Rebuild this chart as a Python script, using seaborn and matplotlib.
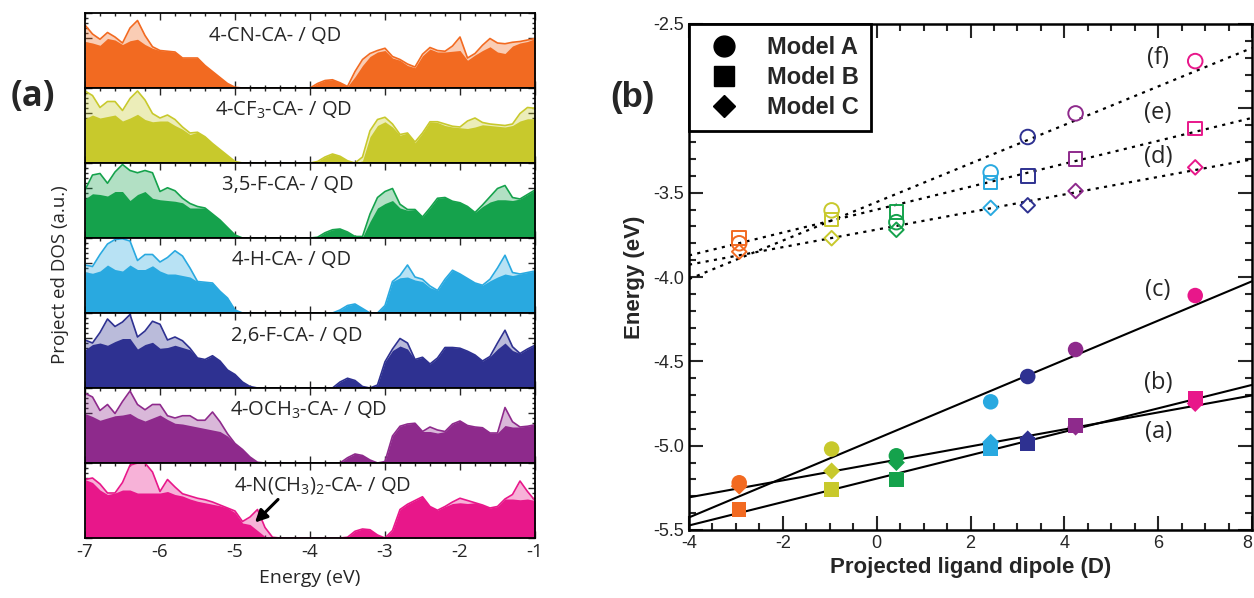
import numpy as np
import pandas as pd
import seaborn as sns
import matplotlib.pyplot as plt
from matplotlib.lines import Line2D
from matplotlib.ticker import MultipleLocator

# ---------------- panel (a): projected DOS, sampled every 0.1 eV ----------------
energy = np.round(np.linspace(-7.0, -1.0, 61), 1)

ligand_labels = [
    '4-CN-CA- / QD',
    '4-CF$_\\mathrm{3}$-CA- / QD',
    '3,5-F-CA- / QD',
    '4-H-CA- / QD',
    '2,6-F-CA- / QD',
    '4-OCH$_\\mathrm{3}$-CA- / QD',
    '4-N(CH$_\\mathrm{3}$)$_\\mathrm{2}$-CA- / QD',
]
ligand_short = ['CN', 'CF3', '35F', 'H', '26F', 'OCH3', 'NMe2']
colors = ['#F26A21', '#C8C92C', '#15A24C', '#29A9E0', '#2E3191', '#8E2A8C', '#E8178A']

# total DOS (light fill with outline)
dos_cn = [0.84, 0.72, 0.65, 0.74, 0.68, 0.60, 0.80, 0.90, 0.70, 0.55,
          0.50, 0.49, 0.48, 0.40, 0.40, 0.40, 0.30, 0.22, 0.14, 0.06,
          0.01, 0, 0, 0, 0, 0, 0, 0, 0, 0,
          0, 0.06, 0.10, 0.11, 0.07, 0.02, 0.22, 0.38, 0.46, 0.50,
          0.53, 0.42, 0.38, 0.32, 0.28, 0.45, 0.54, 0.50, 0.49, 0.56,
          0.68, 0.40, 0.46, 0.57, 0.66, 0.60, 0.59, 0.61, 0.62, 0.64, 0.66]
dos_cf3 = [0.96, 0.90, 0.74, 0.82, 0.82, 0.70, 0.86, 0.96, 0.84, 0.66,
           0.60, 0.64, 0.58, 0.48, 0.40, 0.41, 0.35, 0.26, 0.18, 0.10,
           0.02, 0, 0, 0, 0, 0, 0, 0, 0, 0,
           0, 0.02, 0.08, 0.12, 0.09, 0.03, 0, 0.08, 0.43, 0.58,
           0.61, 0.52, 0.38, 0.40, 0.28, 0.40, 0.55, 0.55, 0.52, 0.49,
           0.48, 0.56, 0.60, 0.54, 0.52, 0.51, 0.50, 0.52, 0.66, 0.74, 0.73]
dos_35f = [0.64, 0.84, 0.86, 0.73, 0.88, 0.98, 0.90, 0.87, 0.90, 0.87,
           0.62, 0.67, 0.63, 0.53, 0.46, 0.42, 0.40, 0.32, 0.24, 0.14,
           0.04, 0, 0, 0, 0, 0, 0, 0, 0, 0,
           0, 0.01, 0.07, 0.11, 0.12, 0.08, 0.02, 0.02, 0.32, 0.54,
           0.62, 0.66, 0.45, 0.38, 0.38, 0.28, 0.40, 0.53, 0.54, 0.49,
           0.47, 0.42, 0.34, 0.44, 0.55, 0.66, 0.70, 0.54, 0.52, 0.58, 0.64]
dos_h = [0.64, 0.62, 0.78, 0.92, 0.98, 0.99, 0.96, 0.70, 0.78, 0.78,
         0.68, 0.74, 0.83, 0.76, 0.60, 0.42, 0.41, 0.40, 0.29, 0.20,
         0.04, 0, 0, 0, 0, 0, 0, 0, 0, 0,
         0, 0, 0, 0, 0.04, 0.10, 0.12, 0.06, 0, 0,
         0.10, 0.42, 0.50, 0.64, 0.48, 0.45, 0.36, 0.30, 0.45, 0.57,
         0.52, 0.46, 0.40, 0.37, 0.45, 0.60, 0.77, 0.54, 0.52, 0.54, 0.56]
dos_26f = [0.64, 0.60, 0.74, 0.92, 0.82, 0.88, 0.98, 0.68, 0.76, 0.89,
           0.85, 0.64, 0.68, 0.63, 0.53, 0.40, 0.38, 0.43, 0.36, 0.24,
           0.18, 0.08, 0.02, 0, 0, 0, 0, 0, 0, 0,
           0, 0, 0, 0, 0.08, 0.13, 0.10, 0.02, 0, 0.04,
           0.35, 0.52, 0.66, 0.60, 0.38, 0.41, 0.32, 0.40, 0.54, 0.54,
           0.53, 0.49, 0.44, 0.36, 0.42, 0.60, 0.77, 0.55, 0.46, 0.52, 0.57]
dos_och3 = [0.93, 0.88, 0.70, 0.78, 0.66, 0.82, 0.96, 0.78, 0.71, 0.78,
            0.78, 0.63, 0.60, 0.63, 0.63, 0.57, 0.57, 0.68, 0.55, 0.39,
            0.26, 0.18, 0.08, 0.01, 0, 0, 0, 0, 0, 0,
            0, 0, 0, 0, 0, 0.07, 0.12, 0.10, 0.04, 0,
            0.02, 0.36, 0.49, 0.52, 0.53, 0.42, 0.48, 0.44, 0.42, 0.52,
            0.56, 0.50, 0.48, 0.47, 0.40, 0.40, 0.74, 0.55, 0.48, 0.49, 0.51]
dos_nme2 = [0.78, 0.80, 0.72, 0.60, 0.60, 0.74, 0.97, 1.00, 1.00, 0.88,
            0.62, 0.78, 0.68, 0.59, 0.56, 0.53, 0.51, 0.48, 0.44, 0.40,
            0.36, 0.22, 0.28, 0.38, 0.14, 0.01, 0, 0, 0, 0,
            0, 0, 0, 0, 0, 0.01, 0.09, 0.12, 0.11, 0.04,
            0, 0.10, 0.38, 0.45, 0.50, 0.55, 0.42, 0.37, 0.42, 0.48,
            0.53, 0.50, 0.47, 0.44, 0.40, 0.42, 0.52, 0.58, 0.76, 0.62, 0.50]

# QD-projected DOS (dark fill)
pdos_cn = [0.62, 0.60, 0.57, 0.66, 0.64, 0.58, 0.63, 0.65, 0.58, 0.53,
           0.50, 0.49, 0.48, 0.40, 0.40, 0.40, 0.30, 0.22, 0.14, 0.06,
           0.01, 0, 0, 0, 0, 0, 0, 0, 0, 0,
           0, 0.06, 0.10, 0.11, 0.07, 0.02, 0.15, 0.30, 0.42, 0.48,
           0.50, 0.40, 0.37, 0.30, 0.27, 0.43, 0.52, 0.48, 0.48, 0.49,
           0.50, 0.37, 0.44, 0.50, 0.55, 0.48, 0.46, 0.56, 0.60, 0.62, 0.66]
pdos_cf3 = [0.59, 0.64, 0.60, 0.62, 0.64, 0.56, 0.60, 0.65, 0.58, 0.55,
            0.56, 0.56, 0.50, 0.45, 0.38, 0.41, 0.35, 0.26, 0.18, 0.10,
            0.02, 0, 0, 0, 0, 0, 0, 0, 0, 0,
            0, 0.02, 0.08, 0.12, 0.09, 0.03, 0, 0.03, 0.35, 0.50,
            0.55, 0.48, 0.37, 0.40, 0.27, 0.40, 0.55, 0.54, 0.50, 0.48,
            0.47, 0.46, 0.48, 0.51, 0.50, 0.49, 0.48, 0.50, 0.56, 0.59, 0.59]
pdos_35f = [0.52, 0.59, 0.58, 0.56, 0.62, 0.62, 0.50, 0.58, 0.62, 0.53,
            0.51, 0.50, 0.49, 0.47, 0.40, 0.40, 0.40, 0.32, 0.24, 0.14,
            0.04, 0, 0, 0, 0, 0, 0, 0, 0, 0,
            0, 0.01, 0.07, 0.11, 0.12, 0.08, 0.02, 0.01, 0.22, 0.40,
            0.46, 0.50, 0.40, 0.37, 0.38, 0.28, 0.40, 0.53, 0.54, 0.49,
            0.47, 0.42, 0.34, 0.42, 0.48, 0.51, 0.51, 0.50, 0.52, 0.58, 0.64]
pdos_h = [0.55, 0.53, 0.56, 0.64, 0.58, 0.56, 0.64, 0.58, 0.58, 0.63,
          0.56, 0.52, 0.52, 0.50, 0.48, 0.42, 0.41, 0.40, 0.29, 0.20,
          0.04, 0, 0, 0, 0, 0, 0, 0, 0, 0,
          0, 0, 0, 0, 0.04, 0.10, 0.12, 0.06, 0, 0,
          0.10, 0.42, 0.47, 0.48, 0.44, 0.42, 0.34, 0.30, 0.45, 0.57,
          0.52, 0.46, 0.40, 0.37, 0.43, 0.48, 0.52, 0.50, 0.52, 0.54, 0.56]
pdos_26f = [0.51, 0.58, 0.60, 0.57, 0.62, 0.66, 0.66, 0.52, 0.58, 0.61,
            0.53, 0.54, 0.57, 0.54, 0.51, 0.40, 0.38, 0.43, 0.36, 0.24,
            0.18, 0.08, 0.02, 0, 0, 0, 0, 0, 0, 0,
            0, 0, 0, 0, 0.08, 0.13, 0.10, 0.02, 0, 0.04,
            0.35, 0.50, 0.56, 0.52, 0.38, 0.41, 0.32, 0.40, 0.54, 0.54,
            0.53, 0.49, 0.44, 0.36, 0.42, 0.52, 0.60, 0.50, 0.46, 0.52, 0.57]
pdos_och3 = [0.66, 0.62, 0.57, 0.60, 0.63, 0.64, 0.66, 0.60, 0.56, 0.60,
             0.64, 0.58, 0.53, 0.52, 0.50, 0.48, 0.46, 0.44, 0.42, 0.36,
             0.26, 0.18, 0.08, 0.01, 0, 0, 0, 0, 0, 0,
             0, 0, 0, 0, 0, 0.07, 0.12, 0.10, 0.04, 0,
             0.02, 0.36, 0.49, 0.52, 0.53, 0.42, 0.42, 0.40, 0.42, 0.52,
             0.56, 0.50, 0.48, 0.47, 0.40, 0.40, 0.50, 0.48, 0.48, 0.49, 0.51]
pdos_nme2 = [0.78, 0.74, 0.64, 0.58, 0.60, 0.64, 0.64, 0.60, 0.60, 0.60,
             0.60, 0.62, 0.58, 0.56, 0.52, 0.49, 0.47, 0.45, 0.43, 0.40,
             0.34, 0.20, 0.18, 0.10, 0.02, 0, 0, 0, 0, 0,
             0, 0, 0, 0, 0, 0.01, 0.09, 0.12, 0.11, 0.04,
             0, 0.10, 0.38, 0.45, 0.50, 0.55, 0.42, 0.37, 0.42, 0.46,
             0.47, 0.46, 0.47, 0.44, 0.40, 0.42, 0.52, 0.52, 0.51, 0.52, 0.50]

dos_total = [dos_cn, dos_cf3, dos_35f, dos_h, dos_26f, dos_och3, dos_nme2]
dos_proj = [pdos_cn, pdos_cf3, pdos_35f, pdos_h, pdos_26f, pdos_och3, pdos_nme2]

# ---------------- panel (b): level energies vs projected ligand dipole ----------------
dipole = [-2.93, -0.96, 0.42, 2.43, 3.22, 4.24, 6.79]
occ_A = [-5.22, -5.02, -5.06, -4.74, -4.59, -4.43, -4.11]
occ_B = [-5.38, -5.26, -5.20, -5.02, -4.99, -4.88, -4.72]
occ_C = [-5.24, -5.15, -5.10, -4.98, -4.96, -4.89, -4.75]
unocc_A = [-3.80, -3.605, -3.675, -3.38, -3.17, -3.03, -2.72]
unocc_B = [-3.77, -3.66, -3.615, -3.44, -3.40, -3.30, -3.12]
unocc_C = [-3.85, -3.77, -3.72, -3.59, -3.575, -3.49, -3.35]

fit_labels = ['(a)', '(b)', '(c)', '(d)', '(e)', '(f)']
fit_label_y = [-4.92, -4.63, -4.08, -3.29, -3.03, -2.70]

# ---------------- style ----------------
sns.set_style('ticks')
plt.rcParams['font.family'] = ['Open Sans', 'DejaVu Sans']
plt.rcParams['axes.unicode_minus'] = False
plt.rcParams['mathtext.fontset'] = 'custom'
plt.rcParams['mathtext.rm'] = 'Open Sans'
plt.rcParams['axes.edgecolor'] = 'black'

W, H = 1254, 598
fig = plt.figure(figsize=(W / 100, H / 100), dpi=100)


def px_axes(x0, y0, x1, y1):
    return fig.add_axes([x0 / W, 1 - y1 / H, (x1 - x0) / W, (y1 - y0) / H])


label_x = [-4.46, -4.35, -4.29, -4.24, -4.18, -4.02, -3.83]

for i in range(7):
    ax = px_axes(85, 13 + 75 * i, 535, 13 + 75 * (i + 1))
    col = colors[i]
    ax.fill_between(energy, dos_total[i], color=col, alpha=0.33, lw=0)
    ax.fill_between(energy, dos_proj[i], color=col, lw=0)
    sns.lineplot(x=energy, y=dos_total[i], color=col, lw=1.2, ax=ax)
    ax.set_xlim(-7, -1)
    ax.set_ylim(0, 1)
    ax.set_xlabel('')
    ax.set_ylabel('')
    ax.xaxis.set_major_locator(MultipleLocator(1))
    ax.xaxis.set_minor_locator(MultipleLocator(0.2))
    ax.yaxis.set_major_locator(MultipleLocator(1 / 3))
    ax.yaxis.set_minor_locator(MultipleLocator(1 / 15))
    ax.tick_params(which='both', direction='in', top=True, right=True,
                   labelleft=False, labelbottom=(i == 6), labelsize=13.5, width=1)
    ax.tick_params(which='major', length=5)
    ax.tick_params(which='minor', length=2.5)
    for sp in ax.spines.values():
        sp.set_linewidth(1.3)
    ax.text(label_x[i], 0.70, ligand_labels[i], ha='center', va='center', fontsize=14.5)
    if i == 6:
        ax.set_xlabel('Energy (eV)', fontsize=14, labelpad=6)
        ax.annotate('', xy=(-4.76, 0.18), xytext=(-4.40, 0.54),
                    arrowprops=dict(arrowstyle='-|>', color='black', lw=2.2, mutation_scale=18))

fig.text(60 / W, 1 - 275 / H, 'Project ed DOS (a.u.)', rotation=90, ha='center', va='center',
         fontsize=13.5)
fig.text(33 / W, 1 - 97 / H, '(a)', ha='center', va='center', fontsize=25, fontweight='bold')

# ---------------- panel (b) ----------------
axb = px_axes(689, 24, 1252, 530)
axb.set_xlim(-4, 8)
axb.set_ylim(-5.5, -2.5)

for yv in [occ_A, occ_B, occ_C]:
    sns.regplot(x=dipole, y=yv, scatter=False, ci=None, truncate=False, color='black',
                line_kws=dict(lw=1.5), ax=axb)
for yv in [unocc_A, unocc_B, unocc_C]:
    sns.regplot(x=dipole, y=yv, scatter=False, ci=None, truncate=False, color='black',
                line_kws=dict(lw=1.6, ls=(0, (1.4, 2.4))), ax=axb)

pal = dict(zip(ligand_short, colors))
filled = pd.DataFrame({
    'dipole': dipole * 3,
    'energy': occ_C + occ_A + occ_B,
    'ligand': ligand_short * 3,
    'model': ['C'] * 7 + ['A'] * 7 + ['B'] * 7,
})
for model, mk, size in [('C', 'D', 75), ('A', 'o', 125), ('B', 's', 110)]:
    sub = filled[filled['model'] == model]
    sns.scatterplot(data=sub, x='dipole', y='energy', hue='ligand', palette=pal, marker=mk,
                    s=size, linewidth=0, legend=False, ax=axb, zorder=3)

for yv, mk, size in [(unocc_C, 'D', 55), (unocc_A, 'o', 110), (unocc_B, 's', 95)]:
    axb.scatter(dipole, yv, marker=mk, s=size, facecolors='none', edgecolors=colors,
                linewidths=1.4, zorder=3)

for lab, yy in zip(fit_labels, fit_label_y):
    axb.text(6.0, yy, lab, ha='center', va='center', fontsize=17)

axb.set_xlim(-4, 8)
axb.set_ylim(-5.5, -2.5)
axb.set_xticks(np.arange(-4, 9, 2))
axb.set_xticklabels([str(v) for v in range(-4, 9, 2)])
yt = np.round(np.arange(-5.5, -2.49, 0.5), 1)
axb.set_yticks(yt)
axb.set_yticklabels(['' if v == -3.0 else f'{v:.1f}' for v in yt])
axb.xaxis.set_minor_locator(MultipleLocator(0.5))
axb.yaxis.set_minor_locator(MultipleLocator(0.1))
axb.tick_params(which='both', direction='in', top=True, right=True, width=1.5,
                labelsize=13, labelfontfamily='Liberation Sans')
axb.tick_params(which='major', length=10)
axb.tick_params(which='minor', length=5)
# keep the last x tick label inside the figure edge
axb.get_xticklabels()[-1].set_horizontalalignment('right')
for sp in axb.spines.values():
    sp.set_linewidth(1.8)

bold = dict(family='Liberation Sans', weight='bold', size=16)
axb.set_xlabel('Projected ligand dipole (D)', fontdict=bold, labelpad=4)
axb.set_ylabel('Energy (eV)', fontdict=bold, labelpad=6)

handles = [Line2D([], [], marker='o', color='black', ls='none', ms=15),
           Line2D([], [], marker='s', color='black', ls='none', ms=14),
           Line2D([], [], marker='D', color='black', ls='none', ms=11)]
leg = axb.legend(handles, ['Model A', 'Model B', 'Model C'], loc='upper left',
                 frameon=True, fancybox=False, framealpha=1, edgecolor='black',
                 borderaxespad=0, borderpad=0.5, labelspacing=0.3, handletextpad=0.8,
                 prop=dict(family='Liberation Sans', weight='bold', size=17))
leg.get_frame().set_linewidth(2)
leg.set_zorder(5)

fig.text(632 / W, 1 - 97 / H, '(b)', ha='center', va='center', fontsize=25,
         fontweight='bold', family='Liberation Sans')

fig.savefig('out.png', dpi=100)
